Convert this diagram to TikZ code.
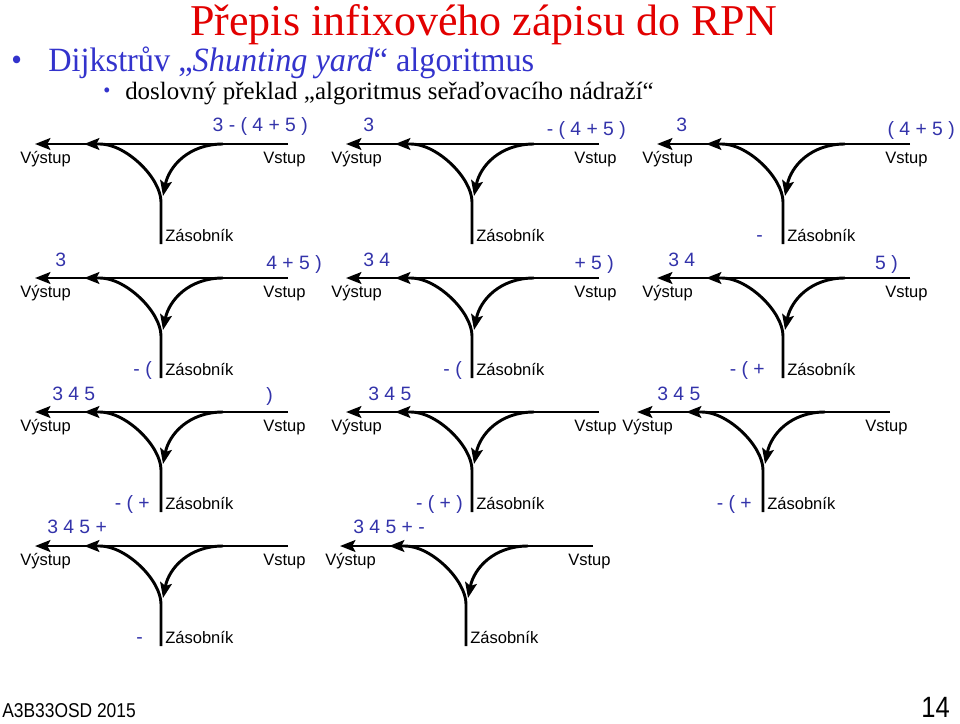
\documentclass[tikz,border=0pt]{standalone}
\usepackage{fontspec}
\setmainfont{Liberation Serif}
\newfontfamily\labsans{Liberation Sans}
\newfontfamily\narrowsans{Liberation Sans}[FakeStretch=0.87]
\newfontfamily\narrowserif{Liberation Serif}[FakeStretch=0.95]
\usetikzlibrary{arrows.meta}
\definecolor{exprblue}{RGB}{51,51,170}
\definecolor{bulletblue}{RGB}{51,51,204}
\definecolor{titlered}{RGB}{226,0,0}
\tikzset{
  track/.style={line width=2.2pt},
  tip/.style={-{Stealth[length=11.5pt,width=8.8pt,inset=2.3pt]}},
  lab/.style={font=\labsans\fontsize{12.4}{14}\selectfont,inner sep=0pt,anchor=base west},
  exprw/.style={font=\labsans\fontsize{14.5}{17}\selectfont,text=exprblue,inner sep=0pt,anchor=base west},
  expre/.style={font=\labsans\fontsize{14.5}{17}\selectfont,text=exprblue,inner sep=0pt,anchor=base east}
}
\newcommand\junction[3]{%
  \begin{scope}[shift={(#2,#3)}]
    \coordinate (#1-in) at (127,0);
    \coordinate (#1-out) at (-126,0);
    \coordinate (#1-bot) at (0,100);
    \coordinate (#1-bend) at (0,58);
    \coordinate (#1-join) at (-61,0);
    \coordinate (#1-merge) at (-77,0);
    \coordinate (#1-fork) at (62,0);
    \coordinate (#1-push) at (2,52);
    \draw[track,tip] (#1-in) -- (#1-out);
    \draw[track,tip] (#1-bot) -- (#1-bend) .. controls +(0,-24) and +(26,0) .. (#1-join) -- (#1-merge);
    \draw[track,tip] (#1-fork) .. controls +(-34,0) and +(6,-30) .. (#1-push);
    \node[lab] (#1-vy) at (-141,19) {Výstup};
    \node[lab] (#1-vs) at (102,19) {Vstup};
    \node[lab] (#1-zs) at (4,97) {Zásobník};
  \end{scope}}
\begin{document}
\begin{tikzpicture}[x=0.75pt,y=-0.75pt]
\useasboundingbox (0,0) rectangle (960,724);
% title and bullets
\node[font=\fontsize{33}{38}\selectfont,text=titlered,inner sep=0pt,anchor=base west] (title) at (190,36) {Přepis infixového zápisu do RPN};
\node[font=\narrowserif\fontsize{24}{28}\selectfont,text=bulletblue,inner sep=0pt,anchor=base west] (b1) at (11,71) {•};
\node[font=\narrowserif\fontsize{25.5}{30}\selectfont,text=bulletblue,inner sep=0pt,anchor=base west] (l1) at (48,72) {Dijkstrův „\textit{Shunting yard}“ algoritmus};
\node[font=\narrowserif\fontsize{16}{20}\selectfont,text=bulletblue,inner sep=0pt,anchor=base west] (b2) at (103,98) {•};
\node[font=\fontsize{18.7}{22}\selectfont,inner sep=0pt,anchor=base west] (l2) at (125,99) {doslovný překlad „algoritmus seřaďovacího nádraží“};
% junctions
\junction{p11}{161}{144}
\junction{p12}{472}{144}
\junction{p13}{783}{144}
\junction{p21}{161}{278}
\junction{p22}{472}{278}
\junction{p23}{783}{278}
\junction{p31}{161}{412}
\junction{p32}{472}{412}
\junction{p33}{763}{412}
\junction{p41}{161}{546}
\junction{p42}{466}{546}
% row 1 expressions
\node[expre] (e11i) at (308,132) {3 - ( 4 + 5 )};
\node[exprw] (e12o) at (363,132) {3};
\node[expre] (e12i) at (626,135.5) {- ( 4 + 5 )};
\node[exprw] (e13o) at (676,132) {3};
\node[expre] (e13i) at (955,135.5) {( 4 + 5 )};
\node[expre] (s13) at (763,241) {-};
% row 2
\node[exprw] (e21o) at (55,266) {3};
\node[expre] (e21i) at (322,269) {4 + 5 )};
\node[exprw] (e22o) at (363,266) {3 4};
\node[expre] (e22i) at (614,269) {+ 5 )};
\node[exprw] (e23o) at (668,266) {3 4};
\node[expre] (e23i) at (898,269) {5 )};
\node[expre] (s21) at (152,375) {- (};
\node[expre] (s22) at (462,375) {- (};
\node[expre] (s23) at (765,375) {- ( +};
% row 3
\node[exprw] (e31o) at (52,400) {3 4 5};
\node[exprw] (e31i) at (266,401) {)};
\node[exprw] (e32o) at (368,400) {3 4 5};
\node[exprw] (e33o) at (657,400) {3 4 5};
\node[expre] (s31) at (150,509) {- ( +};
\node[expre] (s32) at (463,509) {- ( + )};
\node[expre] (s33) at (752,509) {- ( +};
% row 4
\node[exprw] (e41o) at (47,533) {3 4 5 +};
\node[exprw] (e42o) at (353,533) {3 4 5 + -};
\node[expre] (s41) at (143,643) {-};
% footer
\node[font=\narrowsans\fontsize{15}{18}\selectfont,inner sep=0pt,anchor=base west] (foot) at (2,717) {A3B33OSD 2015};
\node[font=\narrowsans\fontsize{22}{26}\selectfont,inner sep=0pt,anchor=base east] (page) at (950,717) {14};
\end{tikzpicture}
\end{document}
